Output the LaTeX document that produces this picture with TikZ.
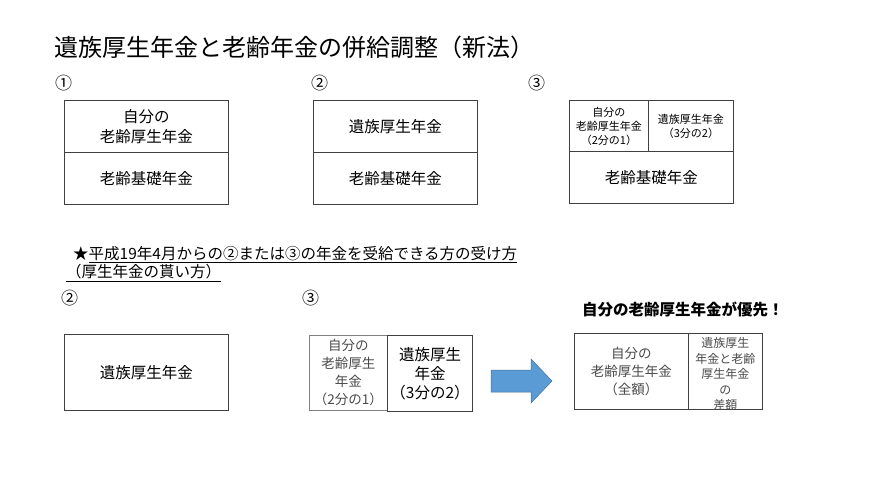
\documentclass[tikz,border=0pt]{standalone}
\usepackage{fontspec}
\setmainfont{Noto Sans CJK JP}
\definecolor{arrowblue}{HTML}{5B9BD5}
\definecolor{arrowedge}{HTML}{41719C}
\definecolor{graytext}{HTML}{4A4A4A}
\definecolor{boxline}{HTML}{404040}
\begin{document}
\begin{tikzpicture}[x=1pt,y=-1pt,
  cell/.style={draw=boxline, line width=0.8pt, anchor=north west, inner sep=0pt},
  txt/.style={align=center, inner sep=0pt, font=\fontsize{15.5}{20}\selectfont},
  small/.style={align=center, inner sep=0pt, font=\fontsize{11}{14}\selectfont},
  num/.style={anchor=west, inner sep=0pt, font=\fontsize{17}{18}\selectfont}]
\useasboundingbox[fill=white] (0,0) rectangle (870,489);
% title
\node[anchor=west, inner sep=0pt, font=\fontsize{24}{27}\selectfont] (title) at (54,47) {遺族厚生年金と老齢年金の併給調整（新法）};
\node[num] (n1) at (55,83) {①};
\node[num] (n2) at (311,83) {②};
\node[num] (n3) at (528,83) {③};
% box 1
\node[cell, minimum width=164pt, minimum height=52pt] (b1t) at (64,100) {};
\node[cell, minimum width=164pt, minimum height=52pt] (b1b) at (64,152) {};
\node[txt] (t1t) at (b1t.center) {自分の\\老齢厚生年金};
\node[txt] (t1b) at (b1b.center) {老齢基礎年金};
% box 2
\node[cell, minimum width=164pt, minimum height=52pt] (b2t) at (313,100) {};
\node[cell, minimum width=164pt, minimum height=52pt] (b2b) at (313,152) {};
\node[txt] (t2t) at (b2t.center) {遺族厚生年金};
\node[txt] (t2b) at (b2b.center) {老齢基礎年金};
% box 3
\node[cell, minimum width=79pt, minimum height=51pt] (b3l) at (569,100) {};
\node[cell, minimum width=85pt, minimum height=51pt] (b3r) at (648,100) {};
\node[cell, minimum width=164pt, minimum height=52pt] (b3b) at (569,151) {};
\node[small] (t3l) at (b3l.center) {自分の\\老齢厚生年金\\（2分の1）};
\node[small] (t3r) at (b3r.center) {遺族厚生年金\\（3分の2）};
\node[txt] (t3b) at (b3b.center) {老齢基礎年金};
% middle text
\node[anchor=west, inner sep=0pt, font=\fontsize{15.5}{19}\selectfont] (star) at (73,255) {★\underline{平成19年4月からの②または③の年金を受給できる方の受け方}};
\node[anchor=west, inner sep=0pt, font=\fontsize{15.5}{19}\selectfont] (star2) at (66,273) {\underline{（厚生年金の貰い方）}};
\node[num] (m2) at (61,298) {②};
\node[num] (m3) at (302,298) {③};
% bottom box 2
\node[cell, minimum width=164pt, minimum height=76pt] (c2) at (64,334) {};
\node[txt] (tc2) at (c2.center) {遺族厚生年金};
% bottom box 3
\node[cell, draw=gray, line width=0.6pt, minimum width=78pt, minimum height=75pt] (c3l) at (309,335) {};
\node[cell, line width=1pt, minimum width=85pt, minimum height=76pt] (c3r) at (387,335) {};
\node[align=center, inner sep=0pt, text=graytext, font=\fontsize{13.5}{18}\selectfont] (tc3l) at (c3l.center) {自分の\\老齢厚生\\年金\\（2分の1）};
\node[align=center, inner sep=0pt, font=\fontsize{15.5}{19}\selectfont] (tc3r) at (c3r.center) {遺族厚生\\年金\\（3分の2）};
% arrow
\fill[arrowblue, draw=arrowedge, line width=0.5pt] (491,370) -- (531,370) -- (531,359) -- (552,381) -- (531,403) -- (531,392) -- (491,392) -- cycle;
% result
\node[anchor=west, inner sep=0pt, font=\bfseries\fontsize{15.5}{18}\selectfont] (prio) at (582,310) {自分の老齢厚生年金が優先！};
\node[cell, minimum width=114pt, minimum height=76pt] (dl) at (574,333) {};
\node[cell, minimum width=74pt, minimum height=76pt] (dr) at (688,333) {};
\node[align=center, inner sep=0pt, text=graytext, font=\fontsize{13.5}{18}\selectfont] (tdl) at (dl.center) {自分の\\老齢厚生年金\\（全額）};
\node[align=center, inner sep=0pt, text=graytext, font=\fontsize{12}{15.5}\selectfont] (tdr) at ([yshift=-3pt]dr.center) {遺族厚生\\年金と老齢\\厚生年金\\の\\差額};
\end{tikzpicture}
\end{document}
